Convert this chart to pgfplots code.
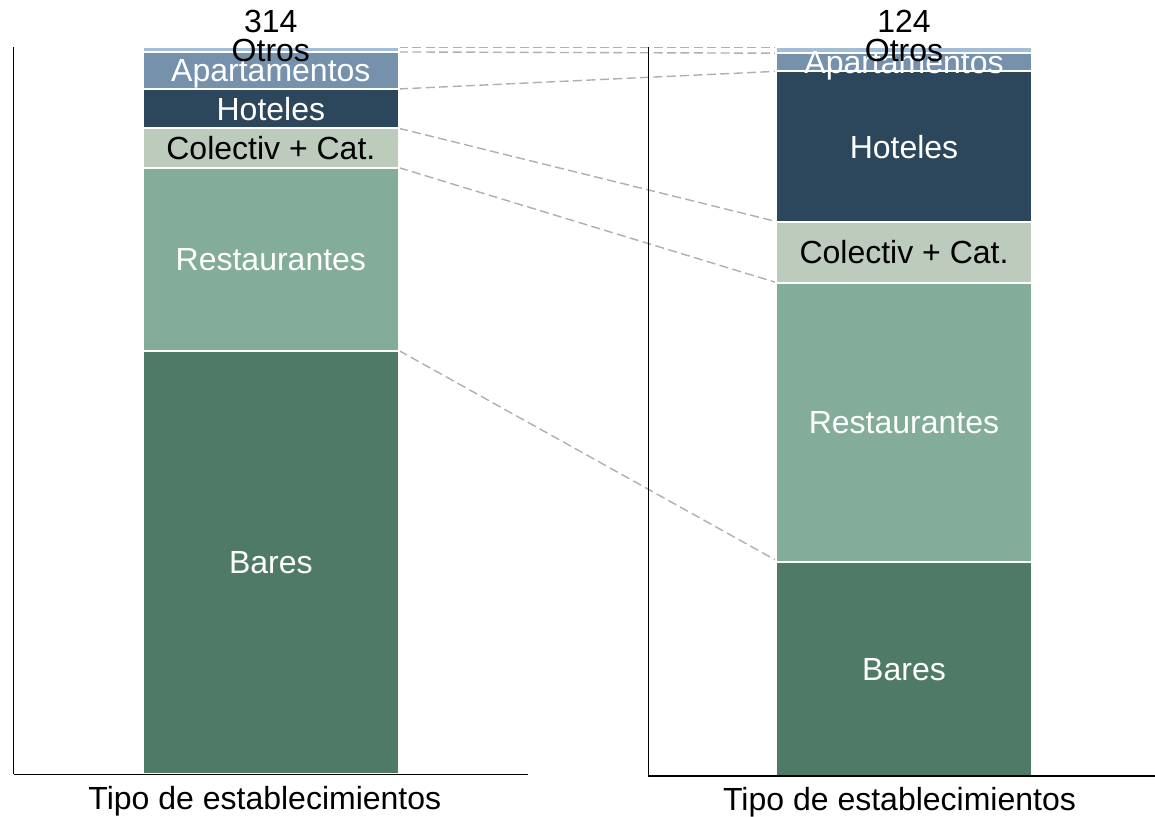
\documentclass[border=0pt]{standalone}
\usepackage{pgfplots}
\pgfplotsset{compat=1.18}
\usepackage{fontspec}
\setmainfont{Liberation Sans}
\definecolor{cBares}{HTML}{4F7A66}
\definecolor{cRest}{HTML}{84AD99}
\definecolor{cCol}{HTML}{BCCBBC}
\definecolor{cHot}{HTML}{2C475B}
\definecolor{cApt}{HTML}{7591AC}
\definecolor{cOtr}{HTML}{A3BCD7}
\definecolor{cDash}{RGB}{175,175,175}
\pgfplotsset{
  panel/.style={scale only axis, anchor=south west, ybar stacked, bar width=256,
    axis on top,
    axis x line*=bottom, axis y line*=left, axis line style={-},
    y axis line style={line width=0.5pt},
    xtick=\empty, ytick=\empty, ymin=0, clip=false,
    every axis plot/.append style={draw=white, line width=1pt}},
  over/.style={scale only axis, anchor=south west, hide axis, clip=false, ymin=0},
  conn/.style={color=cDash, line width=0.7pt, dash pattern=on 4.5pt off 2.2pt, mark=none}
}
\tikzset{
  lbl/.style={font=\fontsize{16}{19}\selectfont, anchor=base, yshift=-5.73pt, inner sep=0pt},
  tot/.style={font=\fontsize{16}{19}\selectfont, anchor=base, yshift=7.5pt, inner sep=0pt},
  xl/.style={font=\fontsize{16}{19}\selectfont, anchor=base, yshift=-17.4pt, inner sep=0pt}
}
\begin{document}
\begin{tikzpicture}
\path[use as bounding box] (0,0) rectangle (577.5pt,408pt);
% connectors (cumulative shares of each segment top)
\begin{axis}[over, at={(0pt,20.85pt)}, width=577.5pt, height=363.5pt,
  xmin=0, xmax=1155, ymax=1]
\addplot[conn] coordinates {(399,0.5828) (776,0.2944)};
\addplot[conn] coordinates {(399,0.8344) (776,0.6766)};
\addplot[conn] coordinates {(399,0.8885) (776,0.7605)};
\addplot[conn] coordinates {(399,0.9427) (776,0.9669)};
\addplot[conn] coordinates {(399,0.9936) (776,0.9919)};
\addplot[conn] coordinates {(399,1.0000) (776,1.0000)};
\end{axis}
% left panel (total 314)
\begin{axis}[panel, at={(6.85pt,20.85pt)}, width=257.15pt, height=363.5pt,
  xmin=0, xmax=514.3, ymax=314, x axis line style={line width=0.75pt}]
\addplot[fill=cBares] coordinates {(257.15,183)};
\addplot[fill=cRest] coordinates {(257.15,79)};
\addplot[fill=cCol] coordinates {(257.15,17)};
\addplot[fill=cHot] coordinates {(257.15,17)};
\addplot[fill=cApt] coordinates {(257.15,16)};
\addplot[fill=cOtr] coordinates {(257.15,2)};
\end{axis}
\begin{axis}[over, at={(6.85pt,20.85pt)}, width=257.15pt, height=363.5pt,
  xmin=0, xmax=514.3, ymax=314]
\node[lbl, white] at (axis cs:257.15,91.5) {Bares};
\node[lbl, white] at (axis cs:257.15,222.5) {Restaurantes};
\node[lbl, black] at (axis cs:257.15,270.5) {Colectiv + Cat.};
\node[lbl, white] at (axis cs:257.15,287.5) {Hoteles};
\node[lbl, white] at (axis cs:257.15,304) {Apartamentos};
\node[lbl, black] at (axis cs:257.15,313) {Otros};
\node[tot] at (axis cs:257.15,314) {314};
\node[xl] at (rel axis cs:0.5,0) [xshift=-3pt] {Tipo de establecimientos};
\end{axis}
% right panel (total 124)
\begin{axis}[panel, at={(324pt,20pt)}, width=253.5pt, height=364.35pt,
  xmin=0, xmax=507, ymax=124, x axis line style={line width=1pt}]
\addplot[fill=cBares] coordinates {(256,36.5)};
\addplot[fill=cRest] coordinates {(256,47.4)};
\addplot[fill=cCol] coordinates {(256,10.4)};
\addplot[fill=cHot] coordinates {(256,25.6)};
\addplot[fill=cApt] coordinates {(256,3.1)};
\addplot[fill=cOtr] coordinates {(256,1.0)};
\end{axis}
\begin{axis}[over, at={(324pt,20pt)}, width=253.5pt, height=364.35pt,
  xmin=0, xmax=507, ymax=124]
\node[lbl, white] at (axis cs:256,18.25) {Bares};
\node[lbl, white] at (axis cs:256,60.2) {Restaurantes};
\node[lbl, black] at (axis cs:256,89.1) {Colectiv + Cat.};
\node[lbl, white] at (axis cs:256,107.1) {Hoteles};
\node[lbl, white] at (axis cs:256,121.45) {Apartamentos};
\node[lbl, black] at (axis cs:256,123.5) {Otros};
\node[tot] at (axis cs:256,124) {124};
\node[xl] at (rel axis cs:0.5,0) [xshift=-1pt] {Tipo de establecimientos};
\end{axis}
\end{tikzpicture}
\end{document}
